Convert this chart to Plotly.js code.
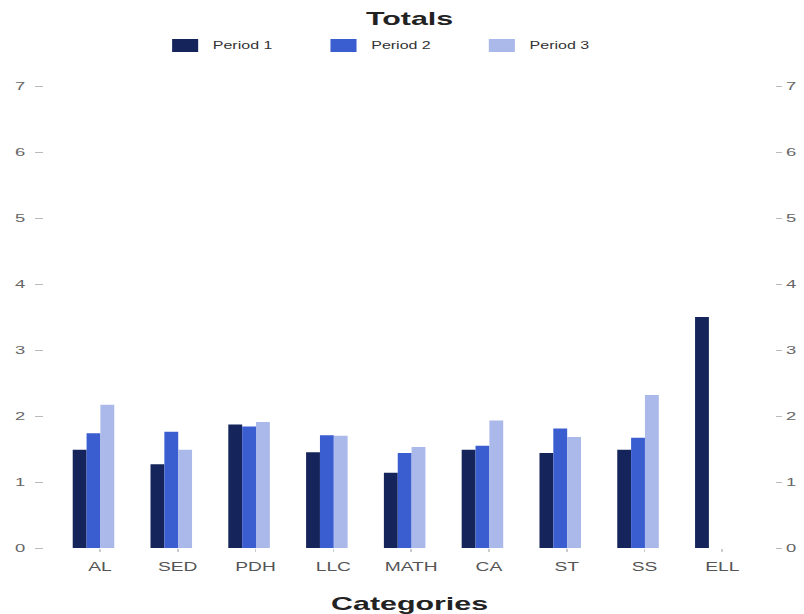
<!DOCTYPE html>
<html>
<head>
<meta charset="utf-8">
<script src="https://cdn.plot.ly/plotly-3.0.1.min.js"></script>
<style>
html,body{margin:0;padding:0;background:#fff;overflow:hidden;}
#chart{width:502.5px;height:614px;transform:scaleX(1.6);transform-origin:0 0;}
</style>
</head>
<body>
<div id="chart"></div>
<script>
const categories = ['AL','SED','PDH','LLC','MATH','CA','ST','SS','ELL'];
const seriesNames = ['Period 1','Period 2','Period 3'];
const period1 = [1.49,1.27,1.87,1.45,1.14,1.49,1.44,1.49,3.5];
const period2 = [1.74,1.76,1.84,1.71,1.44,1.55,1.81,1.67,0];
const period3 = [2.17,1.49,1.91,1.70,1.53,1.93,1.68,2.32,0];
const colors = ['#15245a','#3a5dd0','#aab8ea'];
const yTicks = [0,1,2,3,4,5,6,7];

const W = 502.5, H = 614;
const M = {l:28.1, r:19.4, t:86, b:66};
const plotW = W - M.l - M.r, plotH = H - M.t - M.b;

const values = [period1, period2, period3];
const offsets = [-0.35, -0.172, 0.006];
const traces = values.map((v,i) => ({
  type:'bar', x:categories, y:v, name:seriesNames[i],
  marker:{color:colors[i], line:{width:0}}, width:0.178, offset:offsets[i],
  showlegend:false, hoverinfo:'x+y+name'
}));
// helper trace so the mirrored right-hand axis is drawn
traces.push({type:'scatter', mode:'none', x:categories, y:period1, yaxis:'y2',
  showlegend:false, hoverinfo:'skip'});

// custom legend
const legX = [107.5, 206.25, 305];
const swW = 16.25;
const shapes = [], annotations = [];
const px2x = p => (p - M.l)/plotW;
const py2y = p => (H - M.b - p)/plotH;
seriesNames.forEach((n,i)=>{
  shapes.push({type:'rect', xref:'paper', yref:'paper',
    x0:px2x(legX[i]), x1:px2x(legX[i]+swW), y0:py2y(52), y1:py2y(39),
    fillcolor:colors[i], line:{width:0}});
  annotations.push({xref:'paper', yref:'paper', x:px2x(legX[i]+swW+7.5), y:py2y(45.5),
    xanchor:'left', yanchor:'middle', showarrow:false, text:n,
    font:{family:'Liberation Sans, Arial, sans-serif', size:10, color:'#333'}});
});

const tickFont = {family:'Liberation Sans, Arial, sans-serif', size:11.5, color:'#666'};
const layout = {
  width:W, height:H,
  margin:M,
  paper_bgcolor:'#fff', plot_bgcolor:'#fff',
  barmode:'overlay',
  title:{text:'<b>Totals</b>', x:0.5, xref:'paper', xanchor:'center', y:1-18/H, yanchor:'middle',
    font:{family:'Liberation Sans, Arial, sans-serif', size:19, color:'#222'}},
  xaxis:{type:'category', range:[-0.709, 8.67], showgrid:false, zeroline:false, showline:false,
    ticks:'outside', ticklen:3, tickcolor:'#ccc', ticklabelstandoff:5,
    tickfont:{family:'Liberation Sans, Arial, sans-serif', size:12, color:'#555'},
    title:{text:'<b>Categories</b>', standoff:23, font:{family:'Liberation Sans, Arial, sans-serif', size:19, color:'#222'}}},
  yaxis:{range:[0,7], tickvals:yTicks, showgrid:false, zeroline:false, showline:false,
    ticks:'outside', ticklen:5, tickcolor:'#bbb', tickfont:tickFont, ticklabelstandoff:4},
  yaxis2:{range:[0,7], tickvals:yTicks, overlaying:'y', side:'right', showgrid:false, zeroline:false, showline:false,
    ticks:'outside', ticklen:4, tickcolor:'#bbb', tickfont:tickFont},
  shapes:shapes, annotations:annotations,
  showlegend:false
};
Plotly.newPlot('chart', traces, layout, {displayModeBar:false, staticPlot:true});
</script>
</body>
</html>
